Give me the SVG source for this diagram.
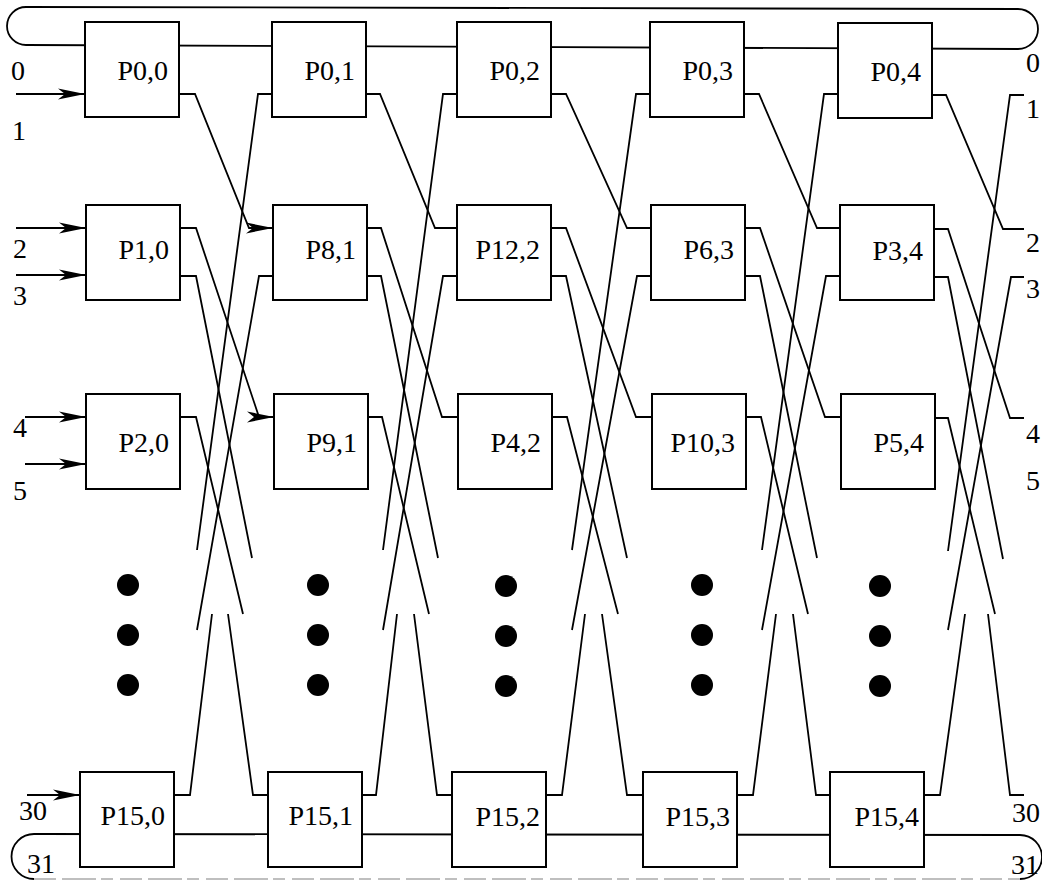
<svg xmlns="http://www.w3.org/2000/svg" width="1042" height="881" viewBox="0 0 1042 881">
<style>
.w{fill:none;stroke:#000;stroke-width:1.8;stroke-linejoin:miter}
.box rect{fill:#fff;stroke:#000;stroke-width:2}
text{font-family:"Liberation Serif","Times New Roman",serif;font-size:28px;fill:#000}
.lbl{text-anchor:end}
.dot{fill:#000}
</style>
<defs>
<marker id="ah" markerWidth="28" markerHeight="14" refX="27" refY="7" orient="auto" markerUnits="userSpaceOnUse" viewBox="0 0 28 14">
<path d="M27,7 L0,1.5 L7,7 L0,12.5 Z" fill="#000"/>
</marker>
</defs>
<rect width="1042" height="881" fill="#fff"/>
<g id="connectors">
<path class="w" d="M26,45 A19,19 0 0 1 26,7 L1018,9 A20,20 0 0 1 1018,49 Z"/>
<path class="w" d="M34,879 A22.5,22.5 0 0 1 34,834 L1020,835 A22,22 0 0 1 1020,879"/>
<path d="M34,879 H1020" fill="none" stroke="#aaa" stroke-width="1.5" stroke-dasharray="22 6 34 5 12 7"/>
<path class="w" d="M16,94 H85" marker-end="url(#ah)"/>
<path class="w" d="M16,228 H86" marker-end="url(#ah)"/>
<path class="w" d="M16,275 H86" marker-end="url(#ah)"/>
<path class="w" d="M25,417 H86" marker-end="url(#ah)"/>
<path class="w" d="M25,464 H86" marker-end="url(#ah)"/>
<path class="w" d="M27,795 H80" marker-end="url(#ah)"/>
<path class="w" d="M179,94 H195 L249,228 H273" marker-end="url(#ah)"/>
<path class="w" d="M180,228 H196 L259,417 H274" marker-end="url(#ah)"/>
<path class="w" d="M180,276 H196 L252,558"/>
<path class="w" d="M180,417 H196 L243,614"/>
<path class="w" d="M272,94 H258 L197,550"/>
<path class="w" d="M273,276 H259 L197,630"/>
<path class="w" d="M174,795 H190 L212,614"/>
<path class="w" d="M268,795 H253 L228,614"/>
<path class="w" d="M366,94 H380 L435,228 H457"/>
<path class="w" d="M367,228 H381 L442,417 H458"/>
<path class="w" d="M367,276 H381 L438,558"/>
<path class="w" d="M368,417 H382 L429,614"/>
<path class="w" d="M457,94 H443 L383,550"/>
<path class="w" d="M457,276 H443 L383,630"/>
<path class="w" d="M362,795 H376 L397,614"/>
<path class="w" d="M452,795 H437 L414,614"/>
<path class="w" d="M551,94 H566 L627,228 H651"/>
<path class="w" d="M551,228 H566 L636,417 H652"/>
<path class="w" d="M551,276 H566 L627,558"/>
<path class="w" d="M552,417 H567 L618,614"/>
<path class="w" d="M650,94 H636 L572,550"/>
<path class="w" d="M651,276 H637 L572,630"/>
<path class="w" d="M546,795 H562 L585,614"/>
<path class="w" d="M643,795 H627 L602,614"/>
<path class="w" d="M744,94 H759 L817,228 H840"/>
<path class="w" d="M745,228 H760 L825,417 H841"/>
<path class="w" d="M745,276 H760 L817,558"/>
<path class="w" d="M746,417 H761 L808,614"/>
<path class="w" d="M838,94 H824 L762,550"/>
<path class="w" d="M840,276 H826 L762,630"/>
<path class="w" d="M737,795 H753 L776,614"/>
<path class="w" d="M830,795 H816 L793,614"/>
<path class="w" d="M932,95 H946 L1003,229 H1024"/>
<path class="w" d="M934,229 H948 L1010,418 H1024"/>
<path class="w" d="M934,277 H948 L1003,559"/>
<path class="w" d="M935,418 H948 L995,614"/>
<path class="w" d="M1024,95 H1010 L948,551"/>
<path class="w" d="M1024,277 H1011 L948,630"/>
<path class="w" d="M924,795 H940 L965,614"/>
<path class="w" d="M1024,795 H1010 L988,614"/>
</g>
<g id="nodes">
<g id="P0_0" class="box"><rect x="85" y="22" width="94" height="95"/><text class="lbl" x="168" y="80">P0,0</text></g>
<g id="P0_1" class="box"><rect x="272" y="22" width="94" height="95"/><text class="lbl" x="355" y="80">P0,1</text></g>
<g id="P0_2" class="box"><rect x="457" y="22" width="94" height="95"/><text class="lbl" x="540" y="80">P0,2</text></g>
<g id="P0_3" class="box"><rect x="650" y="22" width="94" height="95"/><text class="lbl" x="733" y="80">P0,3</text></g>
<g id="P0_4" class="box"><rect x="838" y="23" width="94" height="95"/><text class="lbl" x="921" y="81">P0,4</text></g>
<g id="P1_0" class="box"><rect x="86" y="205" width="94" height="95"/><text class="lbl" x="169" y="259">P1,0</text></g>
<g id="P8_1" class="box"><rect x="273" y="205" width="94" height="95"/><text class="lbl" x="356" y="259">P8,1</text></g>
<g id="P12_2" class="box"><rect x="457" y="205" width="94" height="95"/><text class="lbl" x="540" y="259">P12,2</text></g>
<g id="P6_3" class="box"><rect x="651" y="205" width="94" height="95"/><text class="lbl" x="734" y="259">P6,3</text></g>
<g id="P3_4" class="box"><rect x="840" y="205" width="94" height="95"/><text class="lbl" x="923" y="260">P3,4</text></g>
<g id="P2_0" class="box"><rect x="86" y="394" width="94" height="95"/><text class="lbl" x="169" y="452">P2,0</text></g>
<g id="P9_1" class="box"><rect x="274" y="394" width="94" height="95"/><text class="lbl" x="357" y="452">P9,1</text></g>
<g id="P4_2" class="box"><rect x="458" y="394" width="94" height="95"/><text class="lbl" x="541" y="452">P4,2</text></g>
<g id="P10_3" class="box"><rect x="652" y="394" width="94" height="95"/><text class="lbl" x="735" y="452">P10,3</text></g>
<g id="P5_4" class="box"><rect x="841" y="394" width="94" height="95"/><text class="lbl" x="924" y="452">P5,4</text></g>
<g id="P15_0" class="box"><rect x="80" y="772" width="94" height="95"/><text class="lbl" x="165" y="825">P15,0</text></g>
<g id="P15_1" class="box"><rect x="268" y="772" width="94" height="95"/><text class="lbl" x="353" y="825">P15,1</text></g>
<g id="P15_2" class="box"><rect x="452" y="772" width="94" height="95"/><text class="lbl" x="540" y="826">P15,2</text></g>
<g id="P15_3" class="box"><rect x="643" y="772" width="94" height="95"/><text class="lbl" x="730" y="826">P15,3</text></g>
<g id="P15_4" class="box"><rect x="830" y="772" width="94" height="95"/><text class="lbl" x="919" y="826">P15,4</text></g>
</g>
<g id="ellipsis">
<circle class="dot" cx="128" cy="585" r="11"/><circle class="dot" cx="128" cy="635" r="11"/><circle class="dot" cx="128" cy="685" r="11"/>
<circle class="dot" cx="318" cy="585" r="11"/><circle class="dot" cx="318" cy="635" r="11"/><circle class="dot" cx="318" cy="685" r="11"/>
<circle class="dot" cx="506" cy="586" r="11"/><circle class="dot" cx="506" cy="636" r="11"/><circle class="dot" cx="506" cy="686" r="11"/>
<circle class="dot" cx="702" cy="585" r="11"/><circle class="dot" cx="702" cy="635" r="11"/><circle class="dot" cx="702" cy="685" r="11"/>
<circle class="dot" cx="880" cy="586" r="11"/><circle class="dot" cx="880" cy="636" r="11"/><circle class="dot" cx="880" cy="686" r="11"/>
</g>
<g id="io-labels">
<text x="11" y="80">0</text>
<text x="12" y="140">1</text>
<text x="13" y="258">2</text>
<text x="13" y="305">3</text>
<text x="13" y="437">4</text>
<text x="13" y="500">5</text>
<text x="19" y="820">30</text>
<text x="27" y="873">31</text>
<text x="1026" y="72">0</text>
<text x="1026" y="118">1</text>
<text x="1026" y="252">2</text>
<text x="1026" y="298">3</text>
<text x="1026" y="443">4</text>
<text x="1026" y="490">5</text>
<text x="1012" y="822">30</text>
<text x="1011" y="874">31</text>
</g>
</svg>
